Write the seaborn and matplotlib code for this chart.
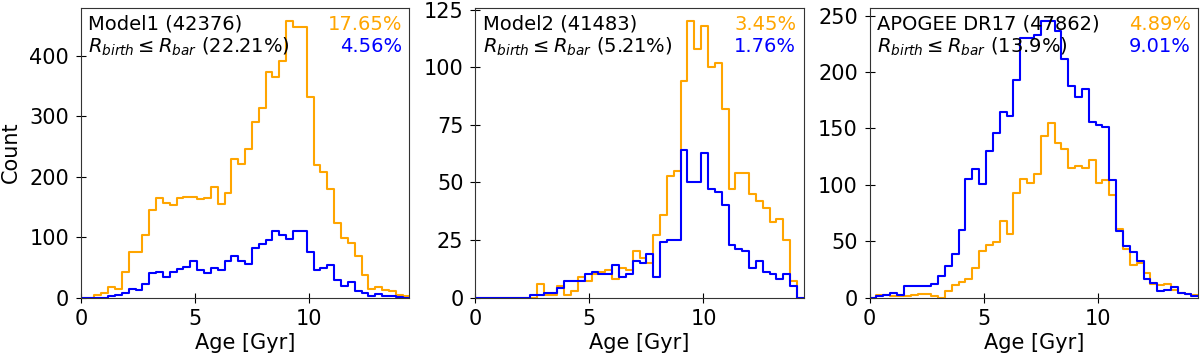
import numpy as np
import pandas as pd
import matplotlib
matplotlib.use("Agg")
import matplotlib.pyplot as plt
import seaborn as sns

# age range (Gyr) split in 48 bins of 0.3 Gyr
age_range = (0, 14.4)
n_bins = 48

# counts per bin
model1_orange = [0, 0, 4, 7, 17, 14, 42, 76, 76, 104,
                 144, 165, 157, 153, 165, 167, 167, 163, 164, 183,
                 154, 173, 230, 221, 245, 291, 314, 373, 365, 391,
                 457, 447, 447, 331, 220, 207, 180, 124, 99, 90,
                 68, 37, 14, 17, 12, 10, 4, 2]
model1_blue = [0, 0, 0, 0, 2, 4, 8, 14, 13, 22,
               41, 43, 34, 43, 47, 51, 60, 45, 41, 48,
               45, 61, 69, 61, 55, 82, 88, 95, 110, 104,
               97, 110, 110, 76, 46, 49, 54, 29, 19, 25,
               10, 7, 3, 6, 3, 3, 1, 0]
model2_orange = [0, 0, 0, 0, 0, 0, 0, 0, 0, 6,
                 1, 1, 5, 1, 3, 9, 7, 10, 11, 12,
                 8, 13, 12, 20, 17, 15, 27, 36, 53, 55,
                 94, 120, 108, 118, 100, 102, 82, 47, 54, 54,
                 45, 42, 39, 33, 34, 25, 7, 0]
model2_blue = [0, 0, 0, 0, 0, 0, 0, 0, 1, 1,
               2, 2, 4, 7, 7, 7, 10, 11, 10, 10,
               14, 9, 10, 16, 15, 19, 9, 24, 25, 25,
               64, 50, 50, 63, 47, 46, 40, 23, 21, 20,
               13, 16, 11, 10, 8, 10, 5, 0]
apogee_orange = [0, 2, 2, 1, 1, 1, 2, 3, 3, 1,
                 0, 6, 11, 14, 16, 26, 41, 47, 49, 68,
                 56, 93, 105, 102, 110, 143, 155, 137, 132, 115,
                 117, 115, 122, 102, 104, 91, 61, 43, 29, 31,
                 22, 12, 11, 12, 7, 4, 3, 2]
apogee_blue = [0, 1, 2, 4, 2, 10, 10, 10, 10, 12,
               19, 28, 39, 60, 105, 114, 101, 130, 146, 165,
               161, 193, 230, 230, 233, 245, 245, 236, 212, 188,
               178, 185, 156, 153, 151, 104, 59, 46, 40, 32,
               16, 13, 6, 7, 9, 4, 3, 1]

names = ['Model1 (42376)', 'Model2 (41483)', 'APOGEE DR17 (47862)']
bar_pct = ['22.21%', '5.21%', '13.9%']
orange_pct = ['17.65%', '3.45%', '4.89%']
blue_pct = ['4.56%', '1.76%', '9.01%']


def draw_panel(ax, orange_counts, blue_counts, i):
    edges = np.linspace(age_range[0], age_range[1], n_bins + 1)
    centers = 0.5 * (edges[:-1] + edges[1:])
    for counts, color in [(orange_counts, 'orange'), (blue_counts, 'blue')]:
        df = pd.DataFrame({'age': centers, 'n': counts})
        sns.histplot(data=df, x='age', weights='n', bins=n_bins, binrange=age_range,
                     element='step', fill=False, color=color, lw=1.5, ax=ax)
    ax.set_xlim(age_range)
    ax.set_ylim(bottom=0)
    ax.set_xlabel('Age [Gyr]', labelpad=3)
    ax.set_ylabel('Count' if i == 0 else '', labelpad=6)
    ax.tick_params(direction='inout', length=7, pad=5)
    ax.text(0.023, 0.924, names[i], transform=ax.transAxes, fontsize=14,
            color='black', va='baseline', ha='left')
    ax.text(0.023, 0.845, r'$R_{birth} \leq R_{bar}$ (' + bar_pct[i] + ')',
            transform=ax.transAxes, fontsize=14, color='black',
            va='baseline', ha='left')
    ax.text(0.977, 0.924, orange_pct[i], transform=ax.transAxes, fontsize=14,
            color='orange', va='baseline', ha='right')
    ax.text(0.977, 0.845, blue_pct[i], transform=ax.transAxes, fontsize=14,
            color='blue', va='baseline', ha='right')


sns.set_style('ticks', rc={'axes.edgecolor': '0.2', 'text.color': 'black',
                           'axes.labelcolor': 'black', 'xtick.color': 'black',
                           'ytick.color': 'black'})
plt.rcParams['font.size'] = 15
plt.rcParams['axes.labelsize'] = 15
plt.rcParams['xtick.labelsize'] = 15
plt.rcParams['ytick.labelsize'] = 15
plt.rcParams['font.family'] = ['DejaVu Sans']

fig, axes = plt.subplots(1, 3, figsize=(12, 3.59), dpi=100)
fig.subplots_adjust(left=0.0673, right=0.9986, bottom=0.1713, top=0.979, wspace=0.2)

draw_panel(axes[0], model1_orange, model1_blue, 0)
draw_panel(axes[1], model2_orange, model2_blue, 1)
draw_panel(axes[2], apogee_orange, apogee_blue, 2)

fig.savefig('out.png', dpi=100)
